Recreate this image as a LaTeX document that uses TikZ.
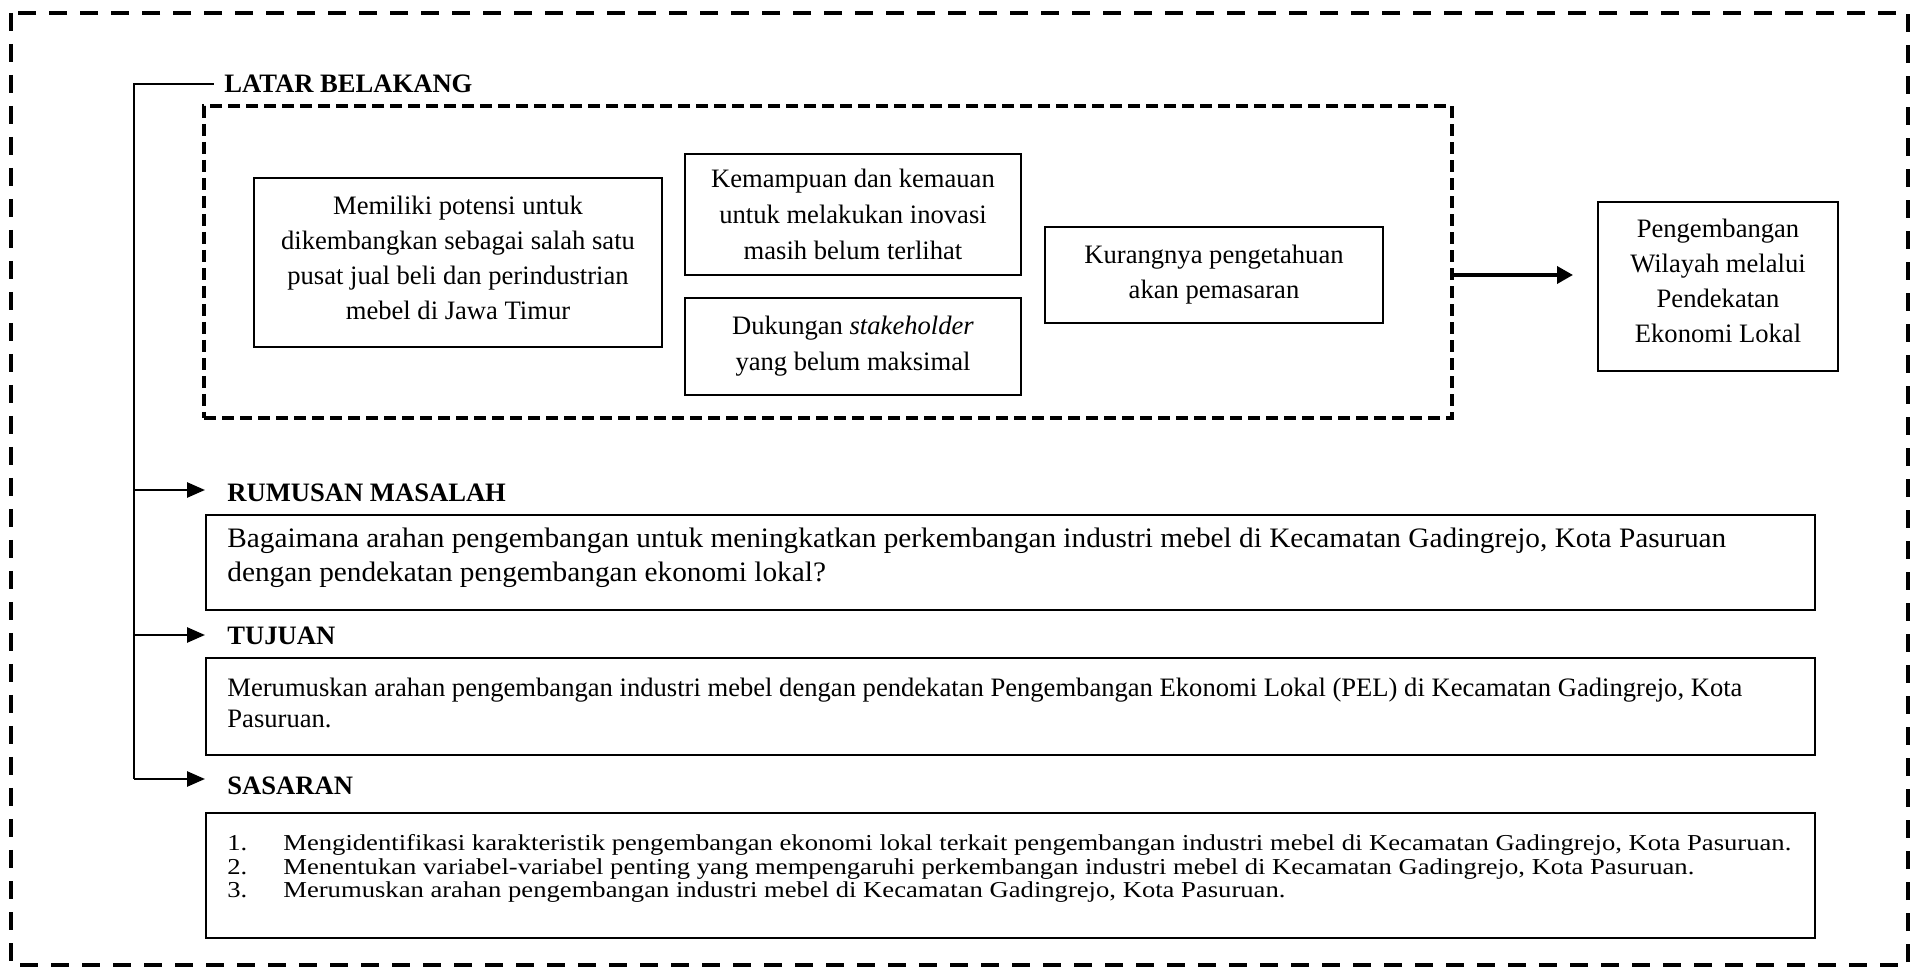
\documentclass[tikz,border=0pt]{standalone}
\usepackage{fontspec}
\setmainfont{Liberation Serif}
\newfontfamily\serifwideA[FakeStretch=1.04]{Liberation Serif}
\newfontfamily\serifwideB[FakeStretch=1.17]{Liberation Serif}
\usetikzlibrary{arrows.meta}
\begin{document}
\begin{tikzpicture}[x=0.5pt,y=-0.5pt,
  txt/.style={font=\fontsize{13.3}{17.5}\selectfont},
  box/.style={draw, line width=1pt, rectangle, align=center, inner sep=0pt, txt},
  head/.style={font=\fontsize{13.3}{16}\selectfont\bfseries, inner sep=0pt, anchor=base west},
  wide/.style={draw, line width=1pt, inner sep=0pt, minimum width=804.5pt, minimum height=#1},
  line/.style={inner sep=0pt, anchor=base west},
  rumfont/.style={font=\serifwideA\fontsize{14.08}{17}\selectfont},
  tujfont/.style={font=\fontsize{13.3}{15.5}\selectfont},
  sasfont/.style={font=\serifwideB\fontsize{11.38}{11.6}\selectfont},
  conn/.style={line width=1.3pt},
  arr/.style={conn, -{Triangle[length=9pt,width=7.5pt]}},
  bigarr/.style={line width=1.8pt, -{Triangle[length=8pt,width=8.5pt]}},
  outerframe/.style={line width=2.25pt, dash pattern=on 9pt off 6.5pt},
  innerframe/.style={draw, line width=2pt, dash pattern=on 6pt off 3pt, inner sep=0pt},
]
\useasboundingbox (0,0) rectangle (1913,967);
\draw[outerframe] (11,13) rectangle (1908,965);

% LATAR BELAKANG block
\node[innerframe, minimum width=624pt, minimum height=156pt] (LB) at (828,262) {};
\node[box, minimum width=204pt, minimum height=84.5pt] (A) at (458,262.5)
  {Memiliki potensi untuk\\dikembangkan sebagai salah satu\\pusat jual beli dan perindustrian\\mebel di Jawa Timur\rule[-5pt]{0pt}{5pt}};
\node[box, minimum width=168pt, minimum height=60.5pt, font=\fontsize{13.3}{18}\selectfont] (B) at (853,214.5)
  {Kemampuan dan kemauan\\untuk melakukan inovasi\\masih belum terlihat};
\node[box, minimum width=168pt, minimum height=48.5pt, font=\fontsize{13.3}{18}\selectfont] (C) at (853,346.5)
  {Dukungan \textit{stakeholder}\\yang belum maksimal};
\node[box, minimum width=169pt, minimum height=48pt] (D) at (1214,275)
  {Kurangnya pengetahuan\\akan pemasaran\rule[-2pt]{0pt}{2pt}};
\node[box, minimum width=120pt, minimum height=84.5pt] (E) at (1718,286.5)
  {Pengembangan\\Wilayah melalui\\Pendekatan\\Ekonomi Lokal\rule[-6pt]{0pt}{6pt}};

% headings
\node[head] (latar) at (224,93) {LATAR BELAKANG};
\node[head] (rumusan) at (227,502) {RUMUSAN MASALAH};
\node[head] (tujuan) at (227,645) {TUJUAN};
\node[head] (sasaran) at (227,795) {SASARAN};

% RUMUSAN MASALAH box
\node[wide=47.5pt] (RB) at (1010.5,562.5) {};
\node[line, rumfont] (r1) at (227,548) {Bagaimana arahan pengembangan untuk meningkatkan perkembangan industri mebel di Kecamatan Gadingrejo, Kota Pasuruan};
\node[line, rumfont] (r2) at (227,582) {dengan pendekatan pengembangan ekonomi lokal?};

% TUJUAN box
\node[wide=48.5pt] (TB) at (1010.5,706.5) {};
\node[line, tujfont] (t1) at (227,697) {Merumuskan arahan pengembangan industri mebel dengan pendekatan Pengembangan Ekonomi Lokal (PEL) di Kecamatan Gadingrejo, Kota};
\node[line, tujfont] (t2) at (227,728) {Pasuruan.};

% SASARAN box
\node[wide=62.5pt] (SB) at (1010.5,875.5) {};
\node[line, sasfont] (s1) at (227,850) {\makebox[28pt][l]{1.}Mengidentifikasi karakteristik pengembangan ekonomi lokal terkait pengembangan industri mebel di Kecamatan Gadingrejo, Kota Pasuruan.};
\node[line, sasfont] (s2) at (227,874) {\makebox[28pt][l]{2.}Menentukan variabel-variabel penting yang mempengaruhi perkembangan industri mebel di Kecamatan Gadingrejo, Kota Pasuruan.};
\node[line, sasfont] (s3) at (227,898) {\makebox[28pt][l]{3.}Merumuskan arahan pengembangan industri mebel di Kecamatan Gadingrejo, Kota Pasuruan.};

% connectors
\coordinate (tl) at (134,84);
\coordinate (a1) at (134,490);
\coordinate (a2) at (134,635);
\coordinate (a3) at (134,779);
\draw[conn, shorten >=5pt] (a3) -- (tl) -- (tl -| latar.west);
\draw[arr, shorten >=11pt] (a1) -- (a1 -| rumusan.west);
\draw[arr, shorten >=11pt] (a2) -- (a2 -| tujuan.west);
\draw[arr, shorten >=11pt] (a3) -- (a3 -| sasaran.west);
\draw[bigarr, shorten >=12pt] (LB.east |- D.east) -- (E.west |- D.east);
\end{tikzpicture}
\end{document}
